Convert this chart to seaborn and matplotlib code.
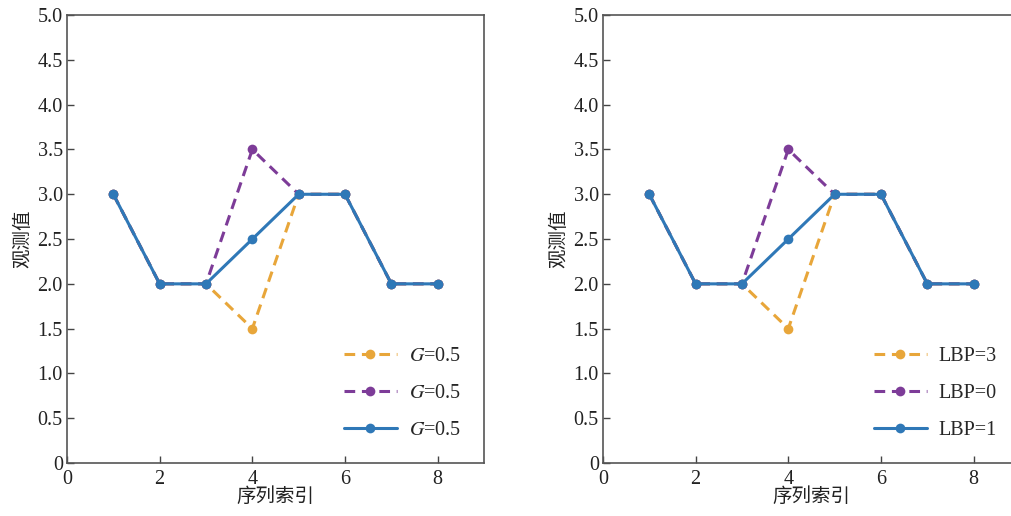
import numpy as np
import pandas as pd
import seaborn as sns
import matplotlib.pyplot as plt

## data
indices = [1, 2, 3, 4, 5, 6, 7, 8]
serie_laranja = [3.0, 2.0, 2.0, 1.5, 3.0, 3.0, 2.0, 2.0]
serie_roxa = [3.0, 2.0, 2.0, 3.5, 3.0, 3.0, 2.0, 2.0]
serie_azul = [3.0, 2.0, 2.0, 2.5, 3.0, 3.0, 2.0, 2.0]
rotulos_esq = ['$G$=0.5', '$G$=0.5', '$G$=0.5']
rotulos_dir = ['LBP=3', 'LBP=0', 'LBP=1']

cores = ['#E8A63A', '#7D3C98', '#2F78B7']
estilos = ['--', '--', '-']

sns.set_theme(style='white')
plt.rcParams['font.family'] = ['Liberation Serif', 'Noto Sans CJK SC']
plt.rcParams['mathtext.fontset'] = 'stix'
plt.rcParams['font.size'] = 14.5
plt.rcParams['xtick.bottom'] = True
plt.rcParams['ytick.left'] = True

fig = plt.figure(figsize=(10.12, 5.16), dpi=100)
ax_esq = fig.add_axes([0.0662, 0.1027, 0.4121, 0.868])
ax_dir = fig.add_axes([0.5958, 0.1027, 0.4121, 0.868])

for eixo, rotulos in [(ax_esq, rotulos_esq), (ax_dir, rotulos_dir)]:
    series = [serie_laranja, serie_roxa, serie_azul]
    for serie, cor, estilo, rotulo in zip(series, cores, estilos, rotulos):
        df = pd.DataFrame({'x': indices, 'y': serie})
        sns.lineplot(data=df, x='x', y='y', ax=eixo, color=cor,
                     linewidth=2.2, marker='o', markersize=7,
                     markeredgewidth=0, label=rotulo)
        if estilo == '--':
            eixo.lines[-1].set_dashes((3.5, 2.2))

    eixo.set_xlim(0, 9)
    eixo.set_ylim(0, 5)
    eixo.set_xticks([0, 2, 4, 6, 8])
    eixo.set_xticklabels(['0', '2', '4', '6', '8'])
    eixo.set_yticks(np.arange(0, 5.01, 0.5))
    eixo.set_yticklabels(['0'] + [f'{v:.1f}' for v in np.arange(0.5, 5.01, 0.5)])
    eixo.tick_params(direction='in', length=5, width=1, colors='#444444',
                     labelsize=14.5, pad=3, labelcolor='#222222',
                     bottom=True, left=True, top=False, right=False)
    eixo.tick_params(axis='x', pad=5)
    for lado in eixo.spines.values():
        lado.set_color('#555555')
        lado.set_linewidth(1.2)
    eixo.set_xlabel('序列索引', fontsize=14, color='#222222', labelpad=-1)
    eixo.set_ylabel('观测值', fontsize=14, color='#222222', labelpad=4)
    eixo.legend(loc='lower right', frameon=False, fontsize=14.5,
                handlelength=2.6, labelspacing=0.88, borderaxespad=0.75,
                handletextpad=0.6)

plt.savefig('out.png', dpi=100)
plt.close()
